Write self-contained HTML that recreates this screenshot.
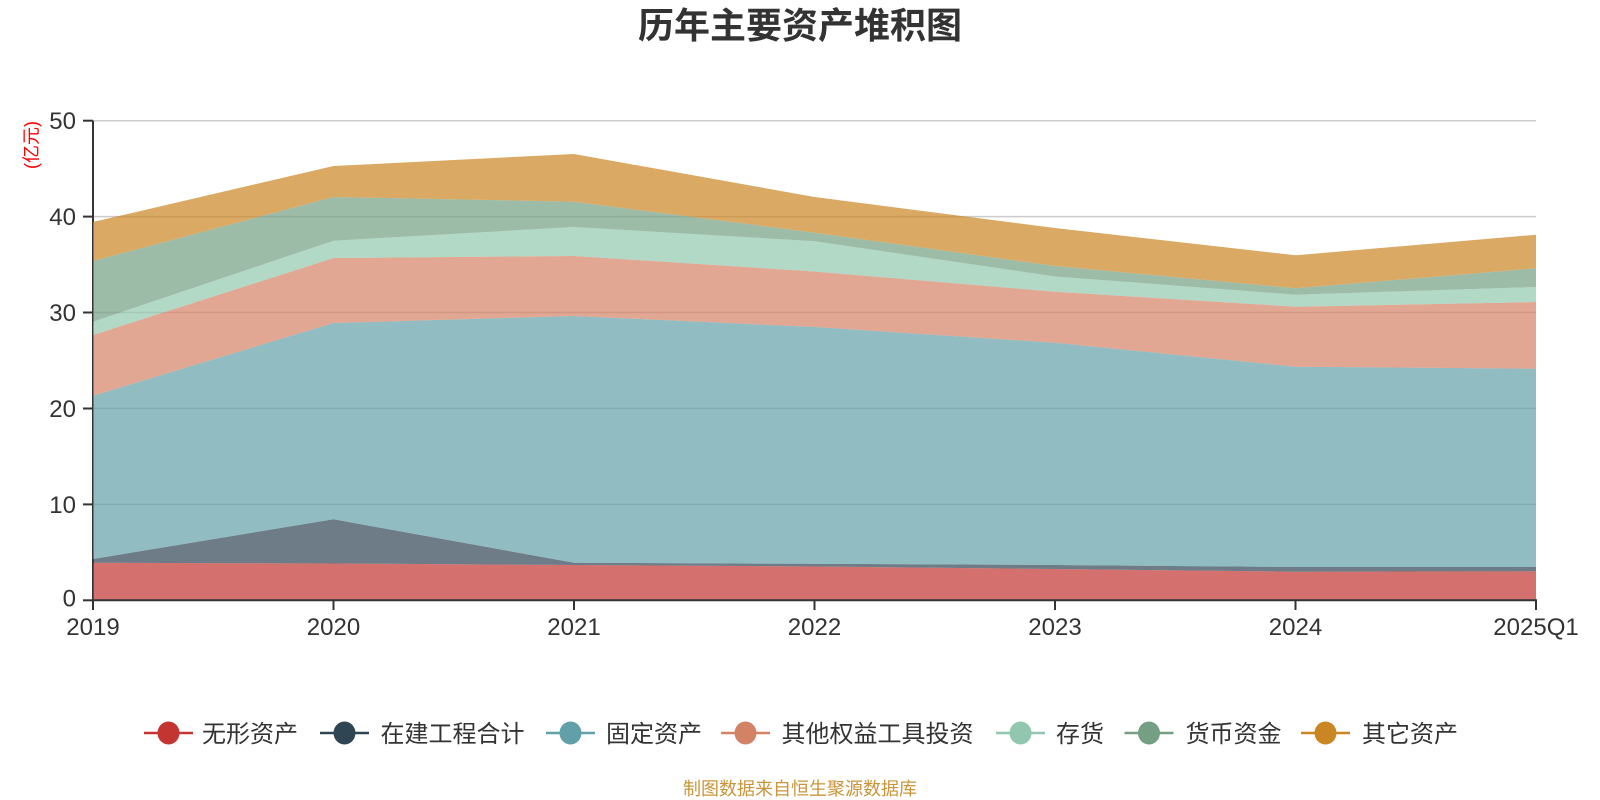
<!DOCTYPE html>
<html>
<head>
<meta charset="utf-8">
<style>
  html,body{margin:0;padding:0;background:#fff;}
  svg{display:block;}
  text{font-family:"Liberation Sans","Noto Sans CJK SC",sans-serif;}
</style>
</head>
<body>
<svg width="1600" height="800" viewBox="0 0 1600 800" xmlns="http://www.w3.org/2000/svg">
  <rect width="1600" height="800" fill="#fff"/>

  <!-- Title -->
  <text x="800" y="38" text-anchor="middle" font-size="36" font-weight="bold" fill="#333">历年主要资产堆积图</text>

  <!-- Unit label -->
  <text transform="translate(37.5,145) rotate(-90)" text-anchor="middle" font-size="18" fill="#ff0000">(亿元)</text>

  <!-- Grid lines -->
  <g stroke="#cccccc" stroke-width="1.5">
    <line x1="93" y1="120.7" x2="1536" y2="120.7"/>
    <line x1="93" y1="216.6" x2="1536" y2="216.6"/>
    <line x1="93" y1="312.5" x2="1536" y2="312.5"/>
    <line x1="93" y1="408.5" x2="1536" y2="408.5"/>
    <line x1="93" y1="504.4" x2="1536" y2="504.4"/>
  </g>

  <!-- Y axis line -->
  <line x1="93" y1="120.7" x2="93" y2="601" stroke="#333" stroke-width="2"/>
  <g stroke="#333" stroke-width="2">
    <line x1="83" y1="120.7" x2="93" y2="120.7"/>
    <line x1="83" y1="216.6" x2="93" y2="216.6"/>
    <line x1="83" y1="312.5" x2="93" y2="312.5"/>
    <line x1="83" y1="408.5" x2="93" y2="408.5"/>
    <line x1="83" y1="504.4" x2="93" y2="504.4"/>
    <line x1="83" y1="600.3" x2="93" y2="600.3"/>
  </g>

  <!-- Areas -->
  <g fill-opacity="0.7" stroke="none">
    <polygon fill="#c23531" points="93,562.7 333.5,563.5 574,565 814.5,566.5 1055,569 1295.5,571.7 1536,571.3 1536,600.3 93,600.3"/>
    <polygon fill="#2f4554" points="93,559 333.5,519.3 574,562.8 814.5,563.8 1055,565 1295.5,567 1536,567 1536,571.3 1295.5,571.7 1055,569 814.5,566.5 574,565 333.5,563.5 93,562.7"/>
    <polygon fill="#61a0a8" points="93,395.7 333.5,323 574,316 814.5,327 1055,342.7 1295.5,366.7 1536,368.7 1536,567 1295.5,567 1055,565 814.5,563.8 574,562.8 333.5,519.3 93,559"/>
    <polygon fill="#d48265" points="93,335 333.5,258 574,256 814.5,271.5 1055,291.7 1295.5,306.7 1536,302 1536,368.7 1295.5,366.7 1055,342.7 814.5,327 574,316 333.5,323 93,395.7"/>
    <polygon fill="#91c7ae" points="93,321.7 333.5,240.7 574,227 814.5,241.2 1055,276.5 1295.5,294.7 1536,287 1536,302 1295.5,306.7 1055,291.7 814.5,271.5 574,256 333.5,258 93,335"/>
    <polygon fill="#749f83" points="93,261 333.5,197 574,201.7 814.5,232.7 1055,266 1295.5,288.3 1536,268.3 1536,287 1295.5,294.7 1055,276.5 814.5,241.2 574,227 333.5,240.7 93,321.7"/>
    <polygon fill="#ca8622" points="93,222 333.5,166 574,154 814.5,197 1055,228 1295.5,255.3 1536,234.7 1536,268.3 1295.5,288.3 1055,266 814.5,232.7 574,201.7 333.5,197 93,261"/>
  </g>

  <!-- X axis line -->
  <line x1="92" y1="600.3" x2="1537" y2="600.3" stroke="#333" stroke-width="2"/>
  <g stroke="#333" stroke-width="2">
    <line x1="93" y1="600.3" x2="93" y2="610"/>
    <line x1="333.5" y1="600.3" x2="333.5" y2="610"/>
    <line x1="574" y1="600.3" x2="574" y2="610"/>
    <line x1="814.5" y1="600.3" x2="814.5" y2="610"/>
    <line x1="1055" y1="600.3" x2="1055" y2="610"/>
    <line x1="1295.5" y1="600.3" x2="1295.5" y2="610"/>
    <line x1="1536" y1="600.3" x2="1536" y2="610"/>
  </g>

  <!-- Y labels -->
  <g font-size="24" fill="#333" text-anchor="end">
    <text x="76" y="129">50</text>
    <text x="76" y="225">40</text>
    <text x="76" y="321">30</text>
    <text x="76" y="417">20</text>
    <text x="76" y="513">10</text>
    <text x="76" y="606.5">0</text>
  </g>

  <!-- X labels -->
  <g font-size="24" fill="#333" text-anchor="middle">
    <text x="93" y="635">2019</text>
    <text x="333.5" y="635">2020</text>
    <text x="574" y="635">2021</text>
    <text x="814.5" y="635">2022</text>
    <text x="1055" y="635">2023</text>
    <text x="1295.5" y="635">2024</text>
    <text x="1536" y="635">2025Q1</text>
  </g>

  <!-- Legend -->
  <g font-size="24" fill="#333">
    <line x1="144" y1="733" x2="193" y2="733" stroke="#c23531" stroke-width="2.5"/>
    <ellipse cx="168.5" cy="733" rx="11" ry="11.5" fill="#c23531"/>
    <text x="202" y="742">无形资产</text>

    <line x1="320" y1="733" x2="369" y2="733" stroke="#2f4554" stroke-width="2.5"/>
    <ellipse cx="344.5" cy="733" rx="11" ry="11.5" fill="#2f4554"/>
    <text x="380.5" y="742">在建工程合计</text>

    <line x1="546" y1="733" x2="595" y2="733" stroke="#61a0a8" stroke-width="2.5"/>
    <ellipse cx="570.5" cy="733" rx="11" ry="11.5" fill="#61a0a8"/>
    <text x="606" y="742">固定资产</text>

    <line x1="721" y1="733" x2="770" y2="733" stroke="#d48265" stroke-width="2.5"/>
    <ellipse cx="745.5" cy="733" rx="11" ry="11.5" fill="#d48265"/>
    <text x="781.5" y="742">其他权益工具投资</text>

    <line x1="996" y1="733" x2="1045" y2="733" stroke="#91c7ae" stroke-width="2.5"/>
    <ellipse cx="1020.5" cy="733" rx="11" ry="11.5" fill="#91c7ae"/>
    <text x="1056" y="742">存货</text>

    <line x1="1124.5" y1="733" x2="1173.5" y2="733" stroke="#749f83" stroke-width="2.5"/>
    <ellipse cx="1149" cy="733" rx="11" ry="11.5" fill="#749f83"/>
    <text x="1185.5" y="742">货币资金</text>

    <line x1="1301" y1="733" x2="1350" y2="733" stroke="#ca8622" stroke-width="2.5"/>
    <ellipse cx="1325.5" cy="733" rx="11" ry="11.5" fill="#ca8622"/>
    <text x="1362" y="742">其它资产</text>
  </g>

  <!-- Footer -->
  <text x="683" y="795" font-size="18" fill="#c9943a">制图数据来自恒生聚源数据库</text>
</svg>
</body>
</html>
